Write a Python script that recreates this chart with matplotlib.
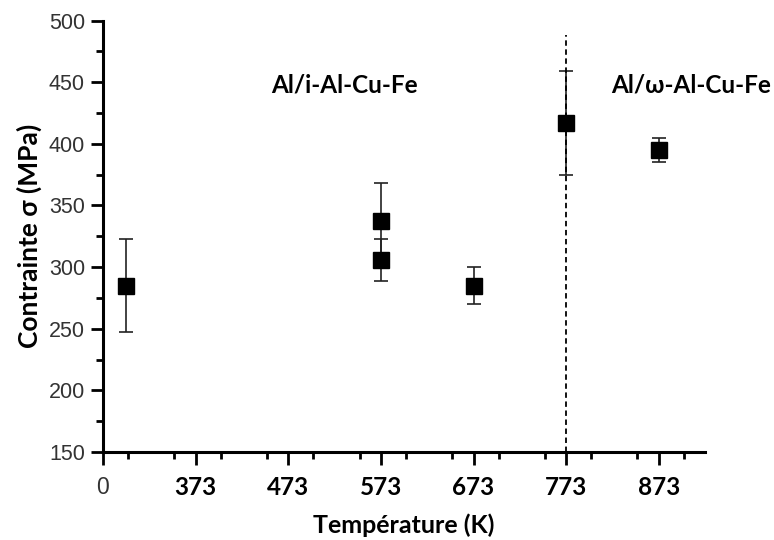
import matplotlib.pyplot as plt
from matplotlib.ticker import MultipleLocator

# température (K) et contrainte (MPa)
temp_k = [298, 573, 573, 673, 773, 873]
stress = [285, 337, 306, 285, 417, 395]
err = [38, 31, 17, 15, 42, 10]

tick_pos = [273, 373, 473, 573, 673, 773, 873]
tick_labels = ["0", "373", "473", "573", "673", "773", "873"]

transition_k = 773
regions = ["Al/i-Al-Cu-Fe", "Al/ω-Al-Cu-Fe"]
region_x = [534, 908]
region_y = [448, 448]

bold_font = ["Lato", "DejaVu Sans"]
num_font = ["Liberation Sans", "DejaVu Sans"]

fig = plt.figure(figsize=(7.74, 5.4), dpi=100)
ax = fig.add_axes([0.133, 0.163, 0.778, 0.799])

ax.errorbar(temp_k, stress, yerr=err, fmt="s", color="black", ms=12,
            ecolor="#222222", elinewidth=1.2, capsize=5, capthick=1.2)

ax.plot([transition_k, transition_k], [150, 488], ls=(0, (3, 2)), color="black", lw=1.3)

for txt, x, y in zip(regions, region_x, region_y):
    ax.text(x, y, txt, ha="center", va="center", fontsize=17.5, fontweight="bold",
            family=bold_font, clip_on=False)

ax.set_xlim(273, 923)
ax.set_ylim(150, 500)
ax.set_xticks(tick_pos)
ax.set_xticklabels(tick_labels, fontsize=17.5, fontweight="bold", family=bold_font)
ax.xaxis.set_minor_locator(MultipleLocator(50))
ax.yaxis.set_major_locator(MultipleLocator(50))
ax.yaxis.set_minor_locator(MultipleLocator(25))
for lab in ax.get_yticklabels():
    lab.set_fontsize(15.5)
    lab.set_family(num_font)
    lab.set_color("#333333")
zero = ax.get_xticklabels()[0]
zero.set_fontweight("normal")
zero.set_family(num_font)
zero.set_fontsize(16.5)
zero.set_color("#333333")

for side in ["top", "right"]:
    ax.spines[side].set_visible(False)
for side in ["left", "bottom"]:
    ax.spines[side].set_linewidth(2.2)
ax.tick_params(which="major", length=9, width=2)
ax.tick_params(which="minor", length=5, width=2)
ax.tick_params(axis="x", pad=8)
ax.tick_params(axis="y", pad=4)

ax.set_xlabel("Température (K)", fontsize=18, fontweight="bold", family=bold_font, labelpad=11)
ax.set_ylabel("Contrainte σ (MPa)", fontsize=19, fontweight="bold", family=bold_font, labelpad=5)

plt.savefig("out.png", dpi=100)
plt.close()
